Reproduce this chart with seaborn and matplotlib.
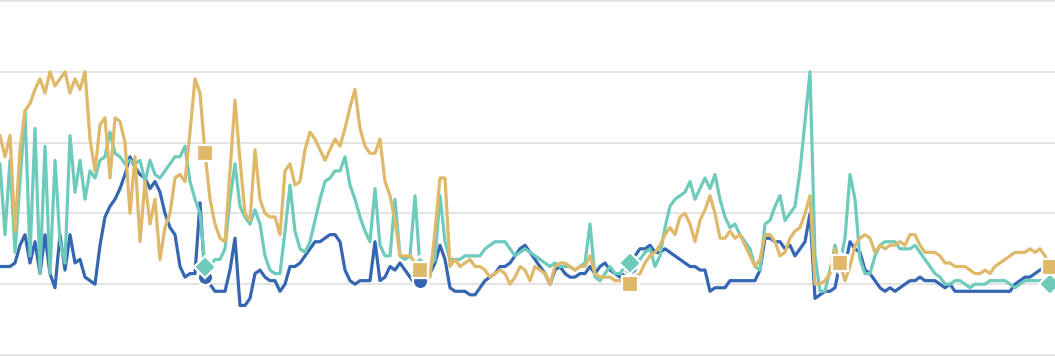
import numpy as np
import pandas as pd
import matplotlib
matplotlib.use("Agg")
import matplotlib.pyplot as plt
import seaborn as sns

# ---- data (index values on a 0-100 scale, one reading per period) ----
blue = [25,25,25,26,31,34,26,32,23,34,23,19,34,24,34,26,27,22,21,20,
        31,39,42,44,47,51,56,53,51,50,47,49,46,40,36,34,25,22,23,23,
        43,22,20,18,18,18,24,33,14,14,16,23,24,22,21,21,18,20,25,25,
        26,28,30,32,32,33,34,34,32,24,21,20,21,21,21,32,21,22,25,24,
        26,24,22,20,21,21,23,26,31,27,19,18,18,18,17,17,19,21,22,23,
        25,25,26,28,30,31,29,27,25,23,20,24,25,23,22,22,23,23,25,23,
        25,26,24,23,22,23,25,28,30,30,31,29,29,30,29,28,27,26,25,25,
        24,24,18,19,19,19,21,21,21,21,21,21,24,33,33,32,32,30,31,28,
        30,32,40,16,17,18,18,19,26,25,32,30,29,24,23,21,19,18,19,18,
        19,20,21,21,22,21,21,21,20,19,20,18,18,18,18,18,18,18,18,18,
        18,18,18,20,21,22,22,23,24,25,25,25]

teal = [54,34,55,29,49,69,28,64,23,59,23,55,32,26,62,46,55,44,52,50,
        55,56,63,57,56,54,55,54,55,49,55,51,50,52,54,56,56,59,49,44,
        40,25,25,27,27,30,44,54,42,39,37,41,37,28,24,23,23,35,48,35,
        30,29,32,38,44,49,50,52,52,56,48,44,39,35,32,47,31,28,28,44,
        28,27,28,45,25,26,25,27,45,32,27,27,27,28,28,28,28,30,31,32,
        32,32,30,28,29,30,29,28,27,26,25,26,25,25,25,24,25,26,37,22,
        21,23,25,23,23,25,26,27,27,29,30,25,28,36,42,44,45,46,49,44,
        47,50,47,51,44,39,36,37,34,32,30,25,24,37,38,42,45,38,40,42,
        52,66,80,28,18,18,24,31,26,33,51,44,27,23,23,28,31,32,32,32,
        30,30,30,31,29,27,25,23,22,20,20,21,21,20,19,20,20,20,21,21,
        21,21,20,19,20,21,21,21,21,21,20,19]

tan = [62,56,62,35,58,69,71,75,78,74,80,76,78,80,74,78,75,80,61,52,
       65,67,50,67,66,60,40,56,32,49,37,44,27,36,40,50,51,49,63,78,
       74,57,44,37,33,32,52,72,55,40,38,58,44,40,39,39,34,52,54,48,
       49,58,63,61,58,55,58,61,59,64,70,75,64,59,57,57,61,49,45,38,
       28,28,28,26,24,23,22,35,50,50,25,27,25,26,27,25,25,24,22,23,
       24,23,20,22,25,24,21,25,24,23,20,25,26,26,25,24,25,25,28,23,
       22,22,22,21,21,20,20,22,23,26,28,29,31,34,36,34,39,40,37,32,
       38,41,45,40,33,33,35,33,34,31,28,25,27,34,34,32,28,29,33,35,
       36,40,45,20,20,21,23,30,26,21,25,31,33,34,33,29,31,30,31,31,
       32,31,34,34,31,29,29,29,28,26,26,25,25,25,24,23,23,24,23,25,
       26,27,28,29,29,29,30,29,30,28,25,25]

series_names = ["Series A", "Series B", "Series C"]
highlight_periods = [41, 84, 126, 168, 210]
grid_levels = [0, 20, 40, 60, 80, 100]

periods = np.arange(len(blue))
df = pd.concat([
    pd.DataFrame({"period": periods, "value": blue, "series": series_names[0]}),
    pd.DataFrame({"period": periods, "value": teal, "series": series_names[1]}),
    pd.DataFrame({"period": periods, "value": tan, "series": series_names[2]}),
])

sns.set_theme(style="white")
fig = plt.figure(figsize=(10.55, 3.56), dpi=100)
ax = fig.add_axes([0, 0, 1, 1])

palette = {series_names[0]: "#3566b2", series_names[1]: "#6ecbbb", series_names[2]: "#dfb86a"}
markers = {series_names[0]: "o", series_names[1]: "D", series_names[2]: "s"}

sns.lineplot(data=df, x="period", y="value", hue="series", style="series",
             hue_order=series_names, style_order=series_names,
             palette=palette, markers=markers, dashes=False,
             linewidth=2.3, markersize=11, markevery=highlight_periods,
             markeredgecolor="white", markeredgewidth=1.6,
             errorbar=None, legend=False, ax=ax)

ax.set_xlim(0, len(blue) - 1)
ax.set_ylim(-0.28, 100.28)
ax.set_yticks(grid_levels)
ax.set_xticks([])
ax.yaxis.grid(True, color="#e4e4e4", linewidth=1.4)
ax.set_axisbelow(True)
ax.tick_params(left=False, bottom=False, labelleft=False, labelbottom=False)
ax.set_xlabel("")
ax.set_ylabel("")
for s in ax.spines.values():
    s.set_visible(False)

fig.savefig("out.png", dpi=100)
